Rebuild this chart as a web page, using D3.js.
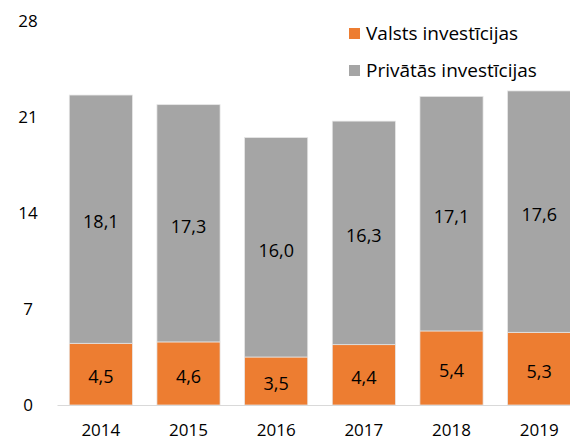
<!DOCTYPE html>
<html>
<head>
<meta charset="utf-8">
<script src="https://cdn.jsdelivr.net/npm/d3@7"></script>
<style>
  body { margin: 0; background: #fff; }
  svg text { font-family: "Open Sans", "Noto Sans", sans-serif; fill: #000; }
</style>
</head>
<body>
<svg width="570" height="443"></svg>
<script>
const years = ["2014", "2015", "2016", "2017", "2018", "2019"];
const valsts = [4.5, 4.6, 3.5, 4.4, 5.4, 5.3];
const privatas = [18.1, 17.3, 16.0, 16.3, 17.1, 17.6];
const yTicks = [0, 7, 14, 21, 28];
const seriesNames = ["Valsts investīcijas", "Privātās investīcijas"];
const colors = ["#ed7d31", "#a5a5a5"];

const svg = d3.select("svg");

const x = d3.scaleBand()
    .domain(years)
    .range([57, 583])
    .paddingInner(0.28)
    .paddingOuter(0.14);

const y = d3.scaleLinear()
    .domain([0, 28])
    .range([405, 21]);

const rows = years.map((year, i) => ({year, valsts: valsts[i], privatas: privatas[i]}));
const stacked = d3.stack().keys(["valsts", "privatas"])(rows);

// y tick labels (no axis line)
svg.append("g")
    .selectAll("text")
    .data(yTicks)
    .enter().append("text")
    .attr("x", 28)
    .attr("y", d => y(d))
    .attr("dy", "0.35em")
    .attr("text-anchor", "middle")
    .style("font-size", "17px")
    .text(d => d);

// bars
const layers = svg.append("g")
    .selectAll("g")
    .data(stacked)
    .enter().append("g")
    .attr("fill", (d, i) => colors[i]);

layers.selectAll("rect")
    .data(d => d)
    .enter().append("rect")
    .attr("x", d => x(d.data.year))
    .attr("y", d => y(d[1]))
    .attr("width", x.bandwidth())
    .attr("height", d => y(d[0]) - y(d[1]))
    .attr("stroke", "#e6e6e6")
    .attr("stroke-width", 0.75);

// value labels
layers.selectAll("text")
    .data(d => d)
    .enter().append("text")
    .attr("x", d => x(d.data.year) + x.bandwidth() / 2)
    .attr("y", d => (y(d[0]) + y(d[1])) / 2 + 3)
    .attr("dy", "0.35em")
    .attr("text-anchor", "middle")
    .style("font-size", "18px")
    .text(d => d3.format(".1f")(d[1] - d[0]).replace(".", ","));

// x axis
const xAxis = svg.append("g")
    .attr("transform", `translate(0,${y(0)})`)
    .call(d3.axisBottom(x).tickSize(0).tickPadding(19));
xAxis.select(".domain").attr("stroke", "#d9d9d9").attr("stroke-width", 1);
xAxis.selectAll("text")
    .style("font-size", "17px")
    .style("font-family", "'Open Sans', 'Noto Sans', sans-serif")
    .attr("fill", "#000");

// legend
const legend = svg.append("g")
    .selectAll("g")
    .data(seriesNames)
    .enter().append("g")
    .attr("transform", (d, i) => `translate(349,${28 + i * 37})`);

legend.append("rect")
    .attr("width", 11)
    .attr("height", 11)
    .attr("fill", (d, i) => colors[i]);

legend.append("text")
    .attr("x", 17)
    .attr("y", 5.5)
    .attr("dy", "0.35em")
    .style("font-size", "19px")
    .text(d => d);
</script>
</body>
</html>
